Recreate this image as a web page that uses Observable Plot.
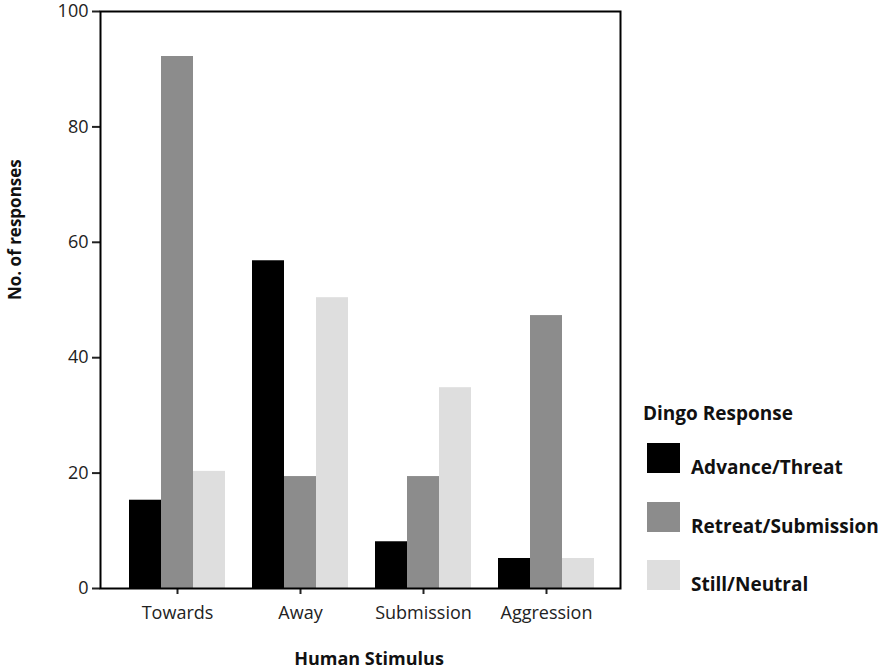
<!DOCTYPE html>
<html><head><meta charset="utf-8">
<script src="https://cdn.jsdelivr.net/npm/d3@7"></script>
<script src="https://cdn.jsdelivr.net/npm/@observablehq/plot@0.6"></script>
<style>
html,body{margin:0;padding:0;background:#fff;}
#wrap{position:relative;width:878px;height:671px;font-family:"Open Sans",sans-serif;}
#legend{position:absolute;left:0;top:0;width:878px;height:671px;pointer-events:none;}
.lg-title{position:absolute;left:643px;top:401px;font-weight:bold;font-size:19px;color:#111;line-height:24px;}
.lg-item{position:absolute;left:647px;height:30px;}
.lg-sw{position:absolute;left:0;top:0;width:33px;height:30px;}
.lg-lab{position:absolute;left:44px;bottom:-6px;font-weight:bold;font-size:19px;color:#111;white-space:nowrap;line-height:24px;}
</style></head><body>
<div id="wrap"><div id="legend"></div></div>
<script>
const stimuli = ["Towards", "Away", "Submission", "Aggression"];
const responses = ["Advance/Threat", "Retreat/Submission", "Still/Neutral"];
const advanceThreat = [15.3, 56.8, 8.1, 5.2];
const retreatSubmission = [92.2, 19.4, 19.4, 47.3];
const stillNeutral = [20.3, 50.4, 34.8, 5.2];
const colors = ["#000000", "#8c8c8c", "#dedede"];
const yTicks = [0, 20, 40, 60, 80, 100];
const xTitle = "Human Stimulus";
const yTitle = "No. of responses";
const legendTitle = "Dingo Response";

const series = [advanceThreat, retreatSubmission, stillNeutral];
const rows = [];
stimuli.forEach((s, i) => responses.forEach((r, j) => rows.push({stimulus: s, response: r, value: series[j][i]})));

const chart = Plot.plot({
  width: 878,
  height: 671,
  marginLeft: 127,
  marginRight: 281,
  marginTop: 11,
  marginBottom: 83,
  style: {fontFamily: "Open Sans, sans-serif", fontSize: "18px", color: "#222", background: "#fff"},
  fx: {domain: stimuli, paddingInner: 0.2, paddingOuter: 0, label: null},
  x: {domain: responses, padding: 0, axis: null},
  y: {domain: [0, 100], label: null},
  color: {domain: responses, range: colors},
  marks: [
    Plot.barY(rows, {fx: "stimulus", x: "response", y: "value", fill: "response"}),
    Plot.axisY({ticks: yTicks, tickSize: 8, tickPadding: 4, strokeWidth: 2, label: null, fill: "#222", dx: -28}),
    Plot.axisFx({anchor: "bottom", tickSize: 6, tickPadding: 12, strokeWidth: 2, label: null, fill: "#222"}),
    Plot.frame({facet: "super", stroke: "#000", strokeWidth: 2, insetLeft: -28, insetRight: -25}),
    Plot.text([yTitle], {facet: "super", frameAnchor: "left", rotate: -90, dx: -113, fontWeight: "bold", fontSize: 17, fill: "#111"}),
    Plot.text([xTitle], {facet: "super", frameAnchor: "bottom", dy: 76, dx: 7, fontWeight: "bold", fontSize: 18, fill: "#111"})
  ]
});
document.getElementById("wrap").prepend(chart);

const legend = document.getElementById("legend");
const t = document.createElement("div");
t.className = "lg-title";
t.textContent = legendTitle;
legend.appendChild(t);
const scale = chart.scale("color");
scale.domain.forEach((d, i) => {
  const item = document.createElement("div");
  item.className = "lg-item";
  item.style.top = (443 + i * 58.5) + "px";
  const sw = document.createElement("div");
  sw.className = "lg-sw";
  sw.style.background = scale.range[i];
  const lab = document.createElement("div");
  lab.className = "lg-lab";
  lab.textContent = d;
  item.appendChild(sw);
  item.appendChild(lab);
  legend.appendChild(item);
});
</script>
</body></html>
